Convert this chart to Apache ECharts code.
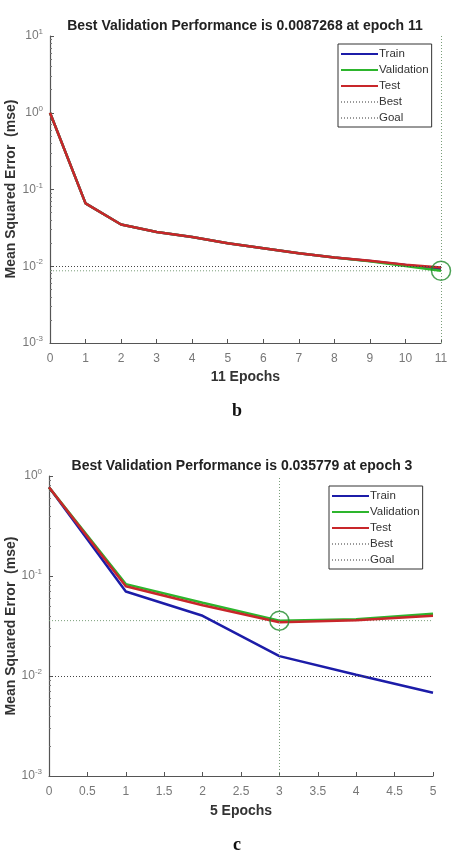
<!DOCTYPE html>
<html>
<head>
<meta charset="utf-8">
<script src="https://cdn.jsdelivr.net/npm/echarts@6/dist/echarts.min.js"></script>
<style>
  html, body { margin: 0; padding: 0; background: #fff; }
  #chart { width: 455px; height: 863px; }
</style>
</head>
<body>
<div id="chart"></div>
<script>
// Panel b: 11 epochs
const epochsB = [0, 1, 2, 3, 4, 5, 6, 7, 8, 9, 10, 11]
const trainB = [1.0, 0.066, 0.035, 0.028, 0.024, 0.020, 0.0172, 0.0148, 0.013, 0.0117, 0.0104, 0.0092]
const validB = [1.0, 0.066, 0.035, 0.028, 0.024, 0.020, 0.0172, 0.0148, 0.013, 0.0116, 0.0101, 0.0087268]
const testB = [1.0, 0.066, 0.035, 0.028, 0.024, 0.020, 0.0172, 0.0148, 0.013, 0.0118, 0.0105, 0.0096]
const bestEpochB = 11
const bestPerfB = 0.0087268

// Panel c: 5 epochs
const epochsC = [0, 1, 2, 3, 4, 5]
const trainC = [0.77, 0.070, 0.040, 0.0158, 0.0103, 0.0068]
const validC = [0.77, 0.083, 0.054, 0.035779, 0.037, 0.042]
const testC = [0.77, 0.079, 0.051, 0.0345, 0.036, 0.040]
const bestEpochC = 3
const bestPerfC = 0.035779

const goal = 0.01
const yTitle = 'Mean Squared Error  (mse)'

const colors = { train: '#1c1ca8', valid: '#2db52d', test: '#c8262a', best: '#7a9e7a', goal: '#444' }
const font = 'Liberation Sans, Arial, sans-serif'

function pairs(xs, ys) {
  return xs.map((x, i) => [x, ys[i]])
}

function powLabel(v) {
  const e = Math.round(Math.log10(v))
  return '{b|10}{e|' + e + '}'
}

function xAxisCfg(gridIndex, max, interval, name, gap) {
  return {
    type: 'value',
    gridIndex,
    min: 0,
    max,
    interval,
    name,
    nameLocation: 'middle',
    nameGap: gap,
    nameTextStyle: { fontFamily: font, fontSize: 14, fontWeight: 'bold', color: '#333' },
    axisLine: { lineStyle: { color: '#555', width: 1.2 } },
    axisTick: { inside: true, length: 4, lineStyle: { color: '#555' } },
    axisLabel: { color: '#777', fontFamily: font, fontSize: 12, margin: 10 },
    splitLine: { show: false },
  }
}

function yAxisCfg(gridIndex, min, max) {
  return {
    type: 'log',
    logBase: 10,
    gridIndex,
    min,
    max,
    axisLine: { show: true, lineStyle: { color: '#555', width: 1.2 } },
    axisTick: { inside: true, length: 4, lineStyle: { color: '#555' } },
    minorTick: { show: true, splitNumber: 9, length: 2, lineStyle: { color: '#777' } },
    axisLabel: {
      formatter: powLabel,
      margin: 7,
      rich: {
        b: { color: '#777', fontFamily: font, fontSize: 12 },
        e: { color: '#777', fontFamily: font, fontSize: 8, verticalAlign: 'top', padding: [0, 0, 8, 0] },
      },
    },
    splitLine: { show: false },
  }
}

function curve(name, xIdx, xs, ys, color, z) {
  return {
    name,
    type: 'line',
    xAxisIndex: xIdx,
    yAxisIndex: xIdx,
    data: pairs(xs, ys),
    symbol: 'none',
    lineStyle: { color, width: 2.5 },
    itemStyle: { color },
    z,
  }
}

// horizontal best line as data across the epoch range, vertical one as markLine
function bestLines(idx, xMax, epoch, perf) {
  return {
    name: 'Best',
    type: 'line',
    xAxisIndex: idx,
    yAxisIndex: idx,
    data: [[0, perf], [xMax, perf]],
    symbol: 'none',
    lineStyle: { color: colors.best, width: 1, type: [1, 2] },
    itemStyle: { color: '#999' },
    z: 1,
    markLine: {
      silent: true,
      symbol: 'none',
      label: { show: false },
      lineStyle: { color: colors.best, width: 1, type: [1, 2] },
      data: [{ xAxis: epoch }],
    },
  }
}

function goalLine(idx) {
  return {
    name: 'Goal',
    type: 'line',
    xAxisIndex: idx,
    yAxisIndex: idx,
    data: [],
    symbol: 'none',
    lineStyle: { color: '#999', width: 1, type: [1, 2] },
    itemStyle: { color: '#999' },
    markLine: {
      silent: true,
      symbol: 'none',
      label: { show: false },
      lineStyle: { color: colors.goal, width: 1, type: [1, 2] },
      data: [{ yAxis: goal }],
    },
  }
}

function bestCircle(idx, epoch, perf) {
  return {
    type: 'scatter',
    xAxisIndex: idx,
    yAxisIndex: idx,
    data: [[epoch, perf]],
    symbol: 'circle',
    symbolSize: 19,
    itemStyle: { color: 'rgba(0,0,0,0)', borderColor: '#1f8a2a', borderWidth: 1.5 },
    z: 5,
  }
}

function legendCfg(left, top) {
  return {
    orient: 'vertical',
    left,
    top,
    width: 92,
    data: [
      'Train', 'Validation', 'Test',
      { name: 'Best', lineStyle: { color: '#999' } },
      { name: 'Goal', lineStyle: { color: '#999' } },
    ],
    selectedMode: false,
    itemWidth: 37,
    itemHeight: 10,
    itemGap: 4,
    padding: [4, 3, 3, 2],
    borderColor: '#333',
    borderWidth: 1,
    backgroundColor: '#fff',
    itemStyle: { opacity: 0 },
    textStyle: { fontFamily: font, fontSize: 11.5, color: '#333', padding: [0, 0, 0, -4] },
  }
}

// rotated y-axis title, placed beside each grid
function yTitleText(x, y) {
  return {
    type: 'text',
    x,
    y,
    rotation: Math.PI / 2,
    style: {
      text: yTitle,
      font: 'bold 14px ' + font,
      fill: '#333',
      align: 'center',
      verticalAlign: 'middle',
    },
  }
}

const chart = echarts.init(document.getElementById('chart'), null, { renderer: 'canvas' })

chart.setOption({
  backgroundColor: '#fff',
  animation: false,
  title: [
    {
      text: 'Best Validation Performance is ' + bestPerfB + ' at epoch ' + bestEpochB,
      left: 240, top: 14, textAlign: 'center',
      textStyle: { fontFamily: font, fontSize: 14, fontWeight: 'bold', color: '#222' },
    },
    {
      text: 'Best Validation Performance is ' + bestPerfC + ' at epoch ' + bestEpochC,
      left: 237, top: 454, textAlign: 'center',
      textStyle: { fontFamily: font, fontSize: 14, fontWeight: 'bold', color: '#222' },
    },
    {
      text: 'b', left: 232, top: 397, textAlign: 'center',
      textStyle: { fontFamily: 'Liberation Serif, serif', fontSize: 18, fontWeight: 'bold', color: '#111' },
    },
    {
      text: 'c', left: 232, top: 831, textAlign: 'center',
      textStyle: { fontFamily: 'Liberation Serif, serif', fontSize: 18, fontWeight: 'bold', color: '#111' },
    },
  ],
  graphic: [yTitleText(11, 189), yTitleText(11, 626)],
  legend: [legendCfg(338, 44), legendCfg(329, 486)],
  grid: [
    { left: 50, top: 36, width: 391, height: 307, outerBoundsMode: 'none', containLabel: false },
    { left: 49, top: 476, width: 384, height: 300, outerBoundsMode: 'none', containLabel: false },
  ],
  xAxis: [xAxisCfg(0, 11, 1, '11 Epochs', 27), xAxisCfg(1, 5, 0.5, '5 Epochs', 28)],
  yAxis: [yAxisCfg(0, 0.001, 10), yAxisCfg(1, 0.001, 1)],
  series: [
    bestLines(0, 11, bestEpochB, bestPerfB),
    goalLine(0),
    curve('Train', 0, epochsB, trainB, colors.train, 2),
    curve('Validation', 0, epochsB, validB, colors.valid, 3),
    curve('Test', 0, epochsB, testB, colors.test, 4),
    bestCircle(0, bestEpochB, bestPerfB),

    bestLines(1, 5, bestEpochC, bestPerfC),
    goalLine(1),
    curve('Train', 1, epochsC, trainC, colors.train, 2),
    curve('Validation', 1, epochsC, validC, colors.valid, 3),
    curve('Test', 1, epochsC, testC, colors.test, 4),
    bestCircle(1, bestEpochC, bestPerfC),
  ],
})
</script>
</body>
</html>
